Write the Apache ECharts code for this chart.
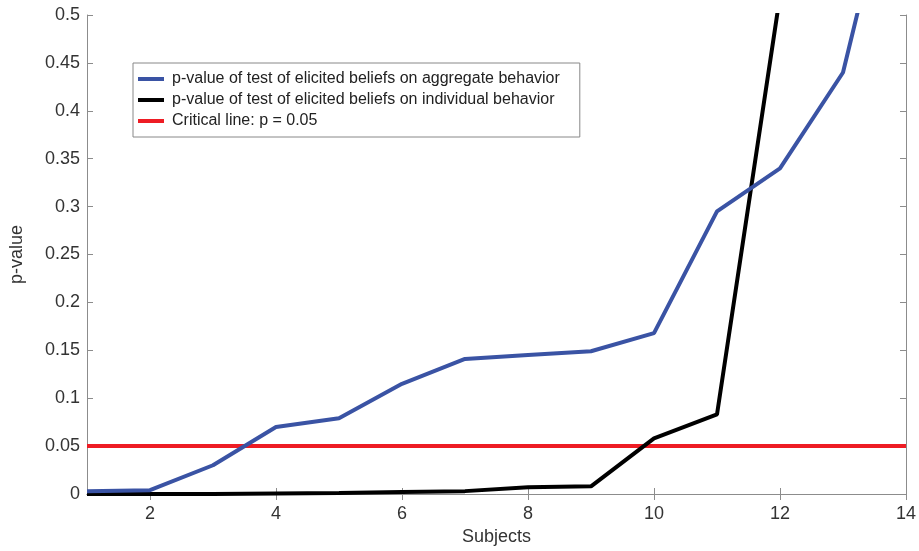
<!DOCTYPE html>
<html>
<head>
<meta charset="utf-8">
<script src="https://cdn.jsdelivr.net/npm/echarts@6/dist/echarts.min.js"></script>
<style>
  html, body { margin: 0; padding: 0; background: #fff; }
  #chart { width: 919px; height: 551px; }
</style>
</head>
<body>
<div id="chart"></div>
<script>
const subjects = [1, 2, 3, 4, 5, 6, 7, 8, 9, 10, 11, 12, 13, 14];
const aggregateP = [0.003, 0.004, 0.03, 0.07, 0.079, 0.115, 0.141, 0.145, 0.149, 0.168, 0.295, 0.34, 0.44, 0.71];
const individualP = [0, 0, 0, 0.0005, 0.001, 0.002, 0.003, 0.007, 0.008, 0.058, 0.083, 0.52, 0.8, 0.95];
const criticalP = 0.05;
const xTicks = [2, 4, 6, 8, 10, 12, 14];

const names = [
  "p-value of test of elicited beliefs on aggregate behavior",
  "p-value of test of elicited beliefs on individual behavior",
  "Critical line: p = 0.05",
];

const font = "Liberation Sans, Arial, sans-serif";
const axisGrey = "#8c8c8c";

function pairs(values) {
  return subjects.map((s, i) => [s, values[i]]);
}

function boxAxis(extra) {
  return {
    axisLine: { show: true, lineStyle: { color: axisGrey, width: 1 } },
    axisTick: { show: true, inside: true, length: 6, lineStyle: { color: axisGrey } },
    splitLine: { show: false },
    ...extra,
  };
}

const chart = echarts.init(document.getElementById("chart"));
chart.setOption({
  animation: false,
  backgroundColor: "#fff",
  textStyle: { fontFamily: font },
  grid: { left: 86, right: 12, top: 15, bottom: 54 },
  legend: {
    orient: "vertical",
    left: 133,
    top: 63,
    padding: [8, 20, 8, 5],
    itemGap: 5,
    itemWidth: 26,
    itemHeight: 4,
    icon: "rect",
    backgroundColor: "#fff",
    borderColor: "#888",
    borderWidth: 1,
    borderRadius: 0,
    textStyle: { fontFamily: font, fontSize: 16, color: "#222", padding: [0, 0, 0, 3] },
    data: names,
  },
  xAxis: [
    boxAxis({
      type: "value",
      min: 1,
      max: 14,
      position: "bottom",
      name: "Subjects",
      nameLocation: "middle",
      nameGap: 34,
      nameTextStyle: { fontFamily: font, fontSize: 18, color: "#333" },
      axisLabel: {
        fontFamily: font, fontSize: 18, color: "#333", margin: 11,
        customValues: xTicks,
      },
      axisTick: { show: true, inside: true, length: 6, lineStyle: { color: axisGrey }, customValues: xTicks },
    }),
    boxAxis({
      type: "value",
      min: 1,
      max: 14,
      position: "top",
      axisLabel: { show: false, customValues: xTicks },
      axisTick: { show: true, inside: true, length: 6, lineStyle: { color: axisGrey }, customValues: xTicks },
    }),
  ],
  yAxis: [
    boxAxis({
      type: "value",
      min: 0,
      max: 0.5,
      interval: 0.05,
      position: "left",
      name: "p-value",
      nameLocation: "middle",
      nameGap: 61,
      nameTextStyle: { fontFamily: font, fontSize: 18, color: "#333" },
      axisLabel: {
        fontFamily: font, fontSize: 18, color: "#333", margin: 7,
        formatter: (v) => String(Math.round(v * 100) / 100),
      },
    }),
    boxAxis({
      type: "value",
      min: 0,
      max: 0.5,
      interval: 0.05,
      position: "right",
      axisLabel: { show: false },
    }),
  ],
  series: [
    {
      name: names[2],
      type: "line",
      data: [[subjects[0], criticalP], [subjects[subjects.length - 1], criticalP]],
      showSymbol: false,
      lineStyle: { color: "#ee1c24", width: 4 },
      itemStyle: { color: "#ee1c24" },
      z: 2,
    },
    {
      name: names[1],
      type: "line",
      data: pairs(individualP),
      showSymbol: false,
      clip: true,
      lineStyle: { color: "#000", width: 4 },
      itemStyle: { color: "#000" },
      z: 3,
    },
    {
      name: names[0],
      type: "line",
      data: pairs(aggregateP),
      showSymbol: false,
      clip: true,
      lineStyle: { color: "#3a53a4", width: 4 },
      itemStyle: { color: "#3a53a4" },
      z: 4,
    },
  ],
});
</script>
</body>
</html>
